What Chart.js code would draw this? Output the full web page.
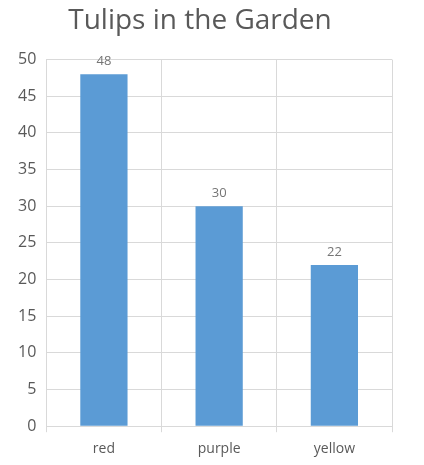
<!DOCTYPE html>
<html>
<head>
<meta charset="utf-8">
<script src="https://cdn.jsdelivr.net/npm/chart.js@4"></script>
<style>
  body { margin: 0; background: #fff; }
</style>
</head>
<body>
<canvas id="tulipChart" width="424" height="465"></canvas>
<script>
// chart data
const colors = ["red", "purple", "yellow"];
const tulipCounts = [48, 30, 22];

// draws the count above each bar
const valueLabels = {
    id: "valueLabels",
    afterDatasetsDraw(chart) {
        const ctx = chart.ctx;
        ctx.save();
        ctx.font = "13px 'Open Sans', sans-serif";
        ctx.fillStyle = "#757575";
        ctx.textAlign = "center";
        ctx.textBaseline = "bottom";
        chart.getDatasetMeta(0).data.forEach((bar, i) => {
            ctx.fillText(tulipCounts[i], bar.x, bar.y - 6);
        });
        ctx.restore();
    }
};

const ctx = document.getElementById("tulipChart").getContext("2d");
new Chart(ctx, {
    type: "bar",
    data: {
        labels: colors,
        datasets: [{
            data: tulipCounts,
            backgroundColor: "#5b9bd5",
            categoryPercentage: 0.82,
            barPercentage: 0.5
        }]
    },
    options: {
        responsive: false,
        animation: false,
        layout: { padding: { left: 8, right: 32, top: 4, bottom: 0 } },
        plugins: {
            legend: { display: false },
            tooltip: { enabled: false },
            title: {
                display: true,
                text: "Tulips in the Garden",
                color: "#595959",
                font: { family: "'Open Sans', sans-serif", size: 28, weight: "normal" },
                padding: { top: 0, bottom: 22 }
            }
        },
        scales: {
            x: {
                grid: { color: "#d9d9d9", tickLength: 6 },
                border: { color: "#d9d9d9" },
                ticks: { color: "#595959", font: { family: "'Open Sans', sans-serif", size: 14 }, padding: 8 }
            },
            y: {
                min: 0,
                max: 50,
                grid: { color: "#d9d9d9", drawTicks: false },
                border: { display: false },
                ticks: { stepSize: 5, color: "#595959", font: { family: "'Open Sans', sans-serif", size: 16 }, padding: 10 }
            }
        }
    },
    plugins: [valueLabels]
});
</script>
</body>
</html>
